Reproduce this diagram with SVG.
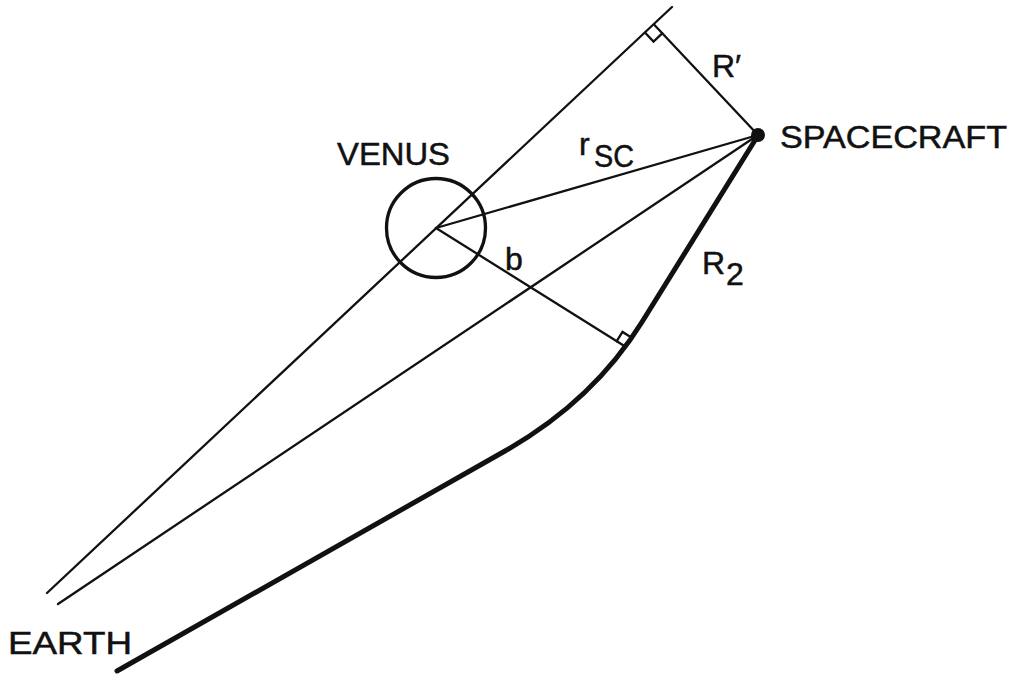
<svg xmlns="http://www.w3.org/2000/svg" width="1011" height="680" viewBox="0 0 1011 680">
<style>
.thin{stroke:#111;stroke-width:2.3;fill:none;stroke-linecap:round}
.thick{stroke:#111;stroke-width:5;fill:none;stroke-linecap:round;stroke-linejoin:round}
.lbl{font-family:"Liberation Sans",Arial,sans-serif;font-size:32px;fill:#111;stroke:#111;stroke-width:0.5}
</style>
<rect width="1011" height="680" fill="#fff"/>
<g id="connectors">
<line class="thin" x1="47" y1="593" x2="672" y2="7"/>
<line class="thin" x1="58" y1="604" x2="758" y2="135"/>
<line class="thin" x1="436" y1="228" x2="758" y2="135"/>
<line class="thin" x1="436" y1="228" x2="626" y2="347"/>
<line class="thin" x1="654" y1="24.5" x2="758" y2="135"/>
<polyline class="thin" points="645.2,32.7 653.5,41.5 662.2,33.3" stroke-width="2"/>
<polyline class="thin" points="616.7,341.2 622.5,331.9 631.8,337.7" stroke-width="2"/>
<path class="thick" d="M757 137 L642 322 Q593 401 505 451 L117 671"/>
</g>
<g id="venus">
<circle cx="436" cy="228" r="49.5" fill="none" stroke="#111" stroke-width="3.3"/>
<text class="lbl" x="337" y="165" textLength="113" lengthAdjust="spacingAndGlyphs">VENUS</text>
</g>
<g id="spacecraft">
<circle cx="758" cy="135" r="7" fill="#111"/>
<text class="lbl" x="780" y="148" textLength="227" lengthAdjust="spacingAndGlyphs">SPACECRAFT</text>
</g>
<g id="earth">
<text class="lbl" x="8" y="654" font-size="34" textLength="124" lengthAdjust="spacingAndGlyphs">EARTH</text>
</g>
<g id="labels">
<text class="lbl" x="712" y="77">R′</text>
<text class="lbl" x="579" y="155" font-size="28">r</text>
<text class="lbl" x="594" y="167" font-size="28" textLength="40" lengthAdjust="spacingAndGlyphs">SC</text>
<text class="lbl" x="505" y="270">b</text>
<text class="lbl" x="702" y="273.5">R</text>
<text class="lbl" x="726" y="285" font-size="29">2</text>
</g>
</svg>
